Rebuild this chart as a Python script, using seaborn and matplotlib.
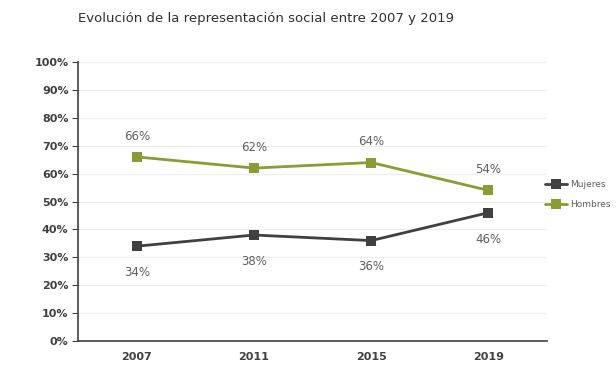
import matplotlib
matplotlib.use("Agg")
import matplotlib.pyplot as plt
import seaborn as sns
import pandas as pd
from matplotlib.ticker import FixedLocator

years = ["2007", "2011", "2015", "2019"]
mujeres = [34, 38, 36, 46]
hombres = [66, 62, 64, 54]
series_names = ["Mujeres", "Hombres"]
title = "Evolución de la representación social entre 2007 y 2019"

df = pd.DataFrame({
    "year": years * 2,
    "value": mujeres + hombres,
    "serie": [series_names[0]] * 4 + [series_names[1]] * 4,
})

sns.set_style("white")
plt.rcParams["font.family"] = ["DejaVu Sans"]

fig = plt.figure(figsize=(6.16, 3.81), dpi=100)
ax = fig.add_axes([0.127, 0.105, 0.761, 0.732])

palette = {series_names[0]: "#404040", series_names[1]: "#8c9b32"}
sns.lineplot(data=df, x="year", y="value", hue="serie", palette=palette,
             marker="s", markersize=7.5, linewidth=2, ax=ax, sort=False,
             markeredgewidth=0)

ax.set_xlim(-0.5, 3.5)
ax.set_ylim(0, 100)
ax.set_yticks(range(0, 101, 10))
ax.set_yticklabels([f"{v}%" for v in range(0, 101, 10)], fontsize=8,
                   color="#404040", fontweight="bold")
ax.set_xticks(range(4))
ax.set_xticklabels(years, fontsize=8, color="#404040", fontweight="bold")
ax.xaxis.set_minor_locator(FixedLocator([-0.5, 0.5, 1.5, 2.5, 3.5]))
ax.tick_params(axis="x", which="major", length=0, pad=8)
ax.tick_params(axis="x", which="minor", length=4, direction="inout", color="#404040")
ax.tick_params(axis="y", length=4, direction="out", color="#404040", left=True, pad=3)
ax.set_xlabel("")
ax.set_ylabel("")
for v in range(10, 101, 10):
    ax.axhline(v, color="#ececec", linewidth=0.8, zorder=0)
for s in ["top", "right"]:
    ax.spines[s].set_visible(False)
for s in ["left", "bottom"]:
    ax.spines[s].set_color("#404040")
    ax.spines[s].set_linewidth(1.2)

for i, v in enumerate(mujeres):
    ax.annotate(f"{v}%", (i, v), xytext=(0, -19), textcoords="offset points",
                ha="center", va="center", fontsize=8.5, color="#606060")
for i, v in enumerate(hombres):
    ax.annotate(f"{v}%", (i, v), xytext=(0, 15), textcoords="offset points",
                ha="center", va="center", fontsize=8.5, color="#606060")

fig.text(0.432, 0.952, title, ha="center", va="center", fontsize=9.5, color="#303030")

handles, labels = ax.get_legend_handles_labels()
leg = ax.legend(handles, labels, loc="center left", bbox_to_anchor=(0.985, 0.525),
                frameon=False, fontsize=6.5, handlelength=2.4, handletextpad=0.3,
                labelspacing=1.3, labelcolor="#606060", borderaxespad=0.2)

fig.savefig("out.png", dpi=100)
